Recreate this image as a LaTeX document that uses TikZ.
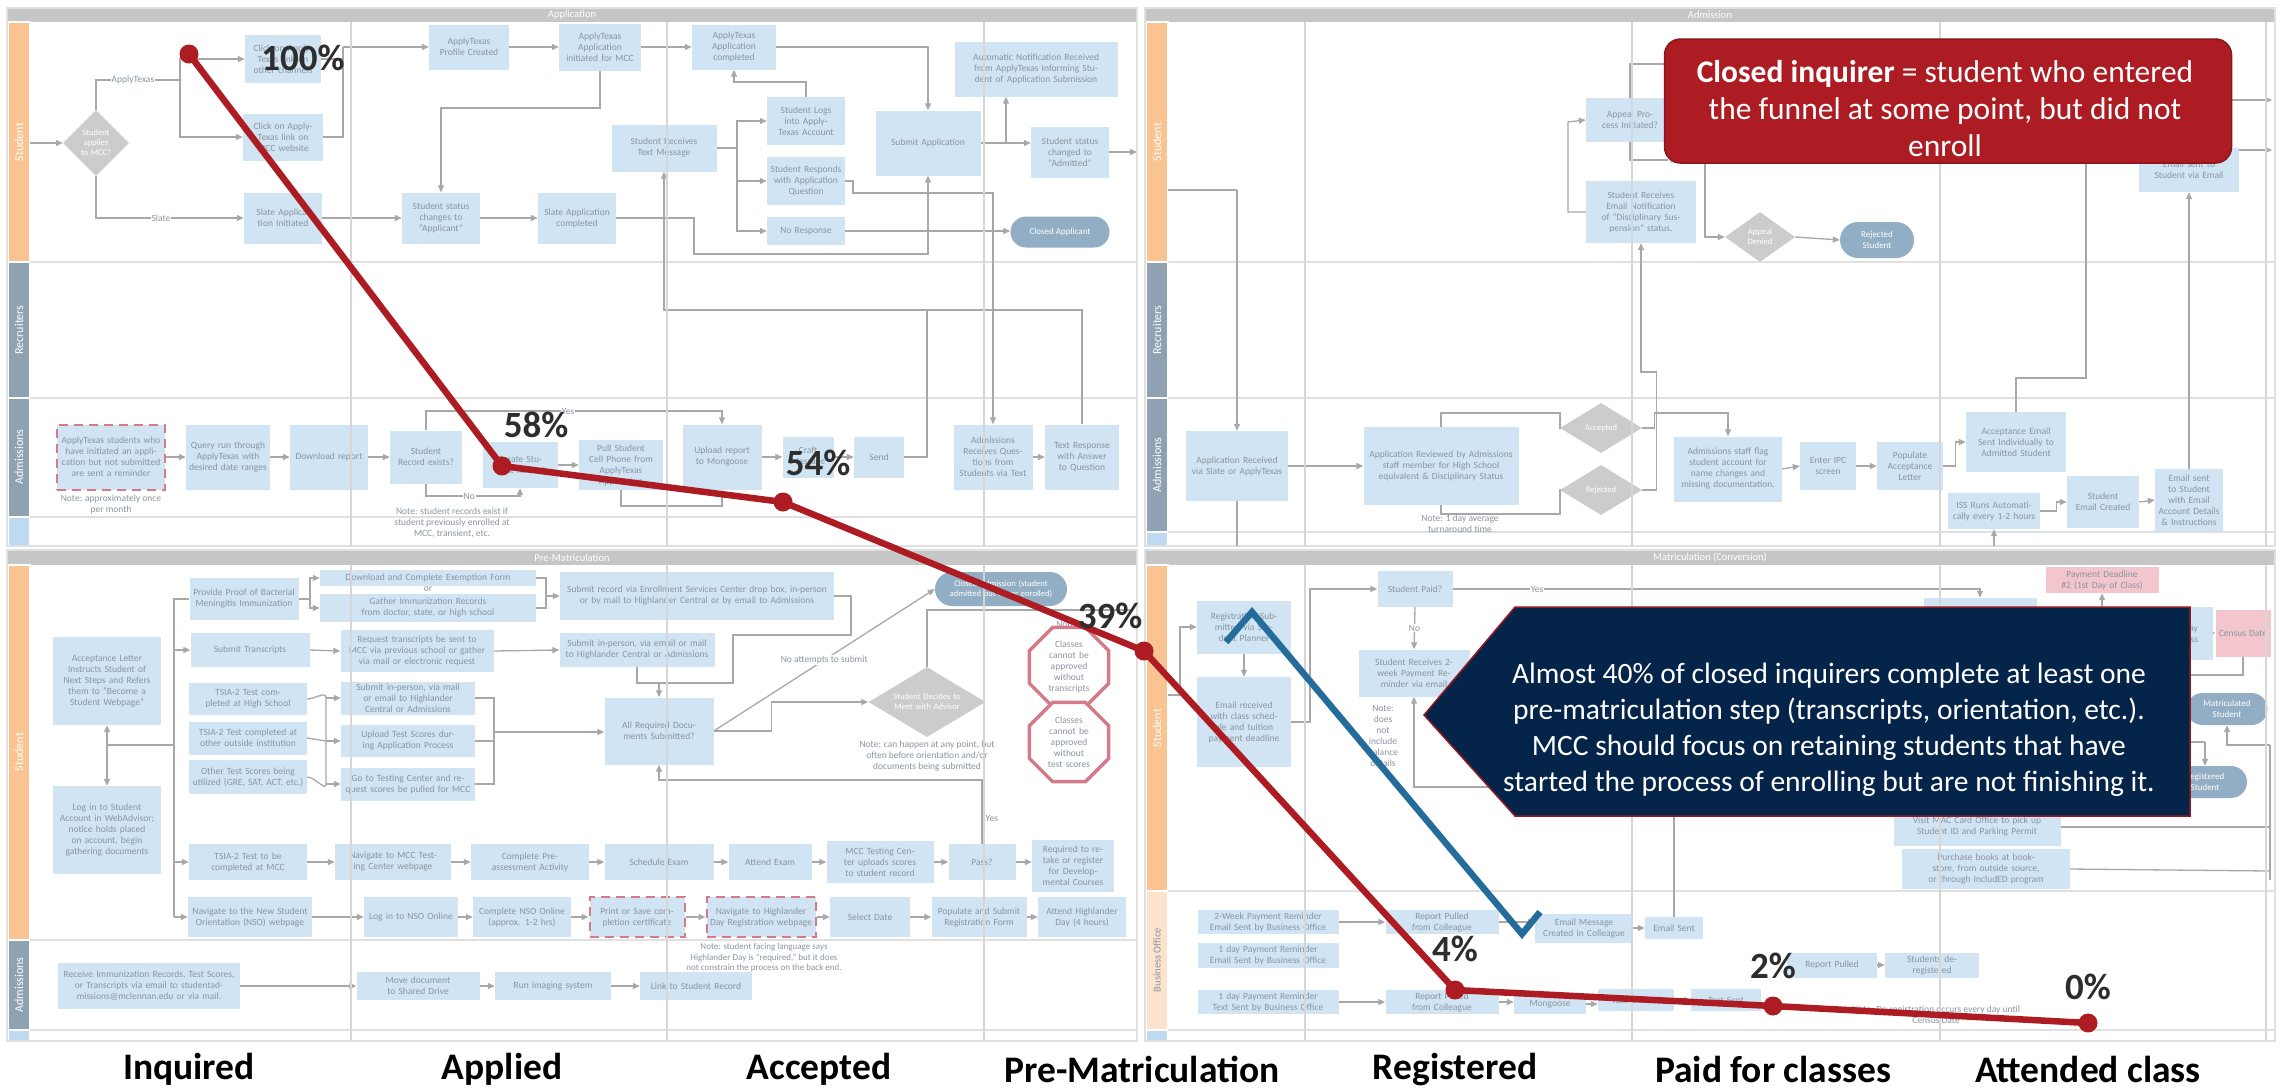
\documentclass[tikz,border=0pt]{standalone}
\usepackage{fontspec}
\setmainfont{Carlito}
\usetikzlibrary{arrows.meta,shapes.geometric,shapes.misc,calc}

\definecolor{boxfill}{RGB}{208,228,244}
\definecolor{boxtext}{RGB}{138,148,160}
\definecolor{wirecol}{RGB}{168,168,168}
\definecolor{sepline}{RGB}{224,224,224}
\definecolor{phasecol}{RGB}{214,214,214}
\definecolor{headbar}{RGB}{198,198,198}
\definecolor{lanestu}{RGB}{249,196,146}
\definecolor{lanegray}{RGB}{143,162,178}
\definecolor{lanelight}{RGB}{190,218,240}
\definecolor{lanepeach}{RGB}{252,228,204}
\definecolor{pinkfillc}{RGB}{242,198,204}
\definecolor{dashred}{RGB}{212,122,136}
\definecolor{termfill}{RGB}{146,174,197}
\definecolor{decfill}{RGB}{204,204,204}
\definecolor{funnelred}{RGB}{174,28,35}
\definecolor{navy}{RGB}{4,36,74}
\definecolor{bracketblue}{RGB}{36,108,155}
\definecolor{pctgray}{RGB}{45,45,45}

\pgfdeclarelayer{panels}
\pgfdeclarelayer{wires}
\pgfsetlayers{panels,wires,main}

\newdimen\flowtw
\newcommand\flowbox[7][]{%
  \flowtw=\dimexpr#5pt-6pt\relax
  \node[pbox,minimum width=#5pt,minimum height=#6pt,text width=\the\flowtw,#1] (#2) at (#3,#4) {#7};}

\tikzset{
  pbox/.style={rectangle, fill=boxfill, text=boxtext, align=center, inner sep=0pt,
    font=\fontsize{9.5}{11}\selectfont},
  dashbox/.style={draw=dashred, line width=2pt, dash pattern=on 9pt off 6pt},
  pinkfill/.style={fill=pinkfillc},
  dec/.style={diamond, fill=decfill, text=white, align=center, inner sep=0pt,
    font=\fontsize{8.5}{10}\selectfont},
  term/.style={rounded rectangle, fill=termfill, text=white, align=center, inner sep=2pt,
    font=\fontsize{9}{10.5}\selectfont},
  stopsign/.style={regular polygon, regular polygon sides=8, draw=dashred, line width=3.5pt,
    fill=white, text=boxtext, align=center, inner sep=0pt, minimum size=76pt, text width=56pt,
    font=\fontsize{9.5}{11}\selectfont},
  note/.style={text=boxtext, align=center, inner sep=1pt, font=\fontsize{9.5}{11}\selectfont},
  lbl/.style={fill=white, text=boxtext, inner sep=1pt, font=\fontsize{9.5}{11}\selectfont},
  wire/.style={draw=wirecol, line width=1.3pt, -{Triangle[length=7pt,width=6pt]}},
  wiren/.style={draw=wirecol, line width=1.3pt},
  wire2/.style={draw=wirecol, line width=1.3pt, {Triangle[length=7pt,width=6pt]}-{Triangle[length=7pt,width=6pt]}},
  lanesep/.style={draw=sepline, line width=1.5pt},
  phaseline/.style={draw=phasecol, line width=1.2pt},
  lanecell/.style={draw=white, line width=1.2pt},
  headtxt/.style={text=white, font=\fontsize{10.5}{12}\selectfont},
  lanelbl/.style={rotate=90, text=white, font=\fontsize{12}{14}\selectfont},
  funnel/.style={draw=funnelred, line width=6.5pt, line join=round},
  fdot/.style={circle, fill=funnelred, minimum size=19pt, inner sep=0pt},
  pct/.style={text=pctgray, font=\fontsize{37}{40}\selectfont\bfseries},
  stage/.style={text=black, font=\fontsize{37.5}{40}\selectfont\bfseries},
  redcall/.style={rectangle, rounded corners=16pt, fill=funnelred, draw=funnelred!80!black,
    line width=1.5pt, minimum width=567pt, minimum height=124pt},
  redtext/.style={text=white, align=center, font=\fontsize{31.5}{37}\selectfont},
  navytext/.style={text=white, align=center, font=\fontsize{29.5}{36}\selectfont},
  bracket/.style={draw=bracketblue, line width=6.5pt, line join=miter}
}

\begin{document}
\begin{tikzpicture}[x=1pt,y=-1pt]
\useasboundingbox (0,0) rectangle (2282,1088);

% ================= swimlane frames =================
\begin{pgfonlayer}{panels}
\fill[white] (0,0) rectangle (2282,1088);
% -- Application
\fill[headbar] (7,8) rectangle (1137,22);
\draw[lanecell,fill=lanestu] (8,22) rectangle (30,262);
\draw[lanecell,fill=lanegray] (8,262) rectangle (30,398);
\draw[lanecell,fill=lanegray] (8,398) rectangle (30,517);
\draw[lanecell,fill=lanelight] (8,517) rectangle (30,546);
\draw[lanesep] (30,262) -- (1137,262) (30,398) -- (1137,398) (30,517) -- (1137,517);
\draw[lanesep] (7,8) rectangle (1137,546);
% -- Admission
\fill[headbar] (1145,8) rectangle (2275,22);
\draw[lanecell,fill=lanestu] (1146,22) rectangle (1168,262);
\draw[lanecell,fill=lanegray] (1146,262) rectangle (1168,398);
\draw[lanecell,fill=lanegray] (1146,398) rectangle (1168,532);
\draw[lanecell,fill=lanelight] (1146,532) rectangle (1168,546);
\draw[lanesep] (1168,262) -- (2275,262) (1168,398) -- (2275,398) (1168,532) -- (2275,532);
\draw[lanesep] (1145,8) rectangle (2275,546);
% -- Pre-Matriculation
\fill[headbar] (7,550) rectangle (1137,565);
\draw[lanecell,fill=lanestu] (8,565) rectangle (30,940);
\draw[lanecell,fill=lanegray] (8,940) rectangle (30,1030);
\draw[lanecell,fill=lanelight] (8,1030) rectangle (30,1041);
\draw[lanesep] (30,940) -- (1137,940) (30,1030) -- (1137,1030);
\draw[lanesep] (7,550) rectangle (1137,1041);
% -- Matriculation
\fill[headbar] (1145,550) rectangle (2275,565);
\draw[lanecell,fill=lanestu] (1146,565) rectangle (1168,891);
\draw[lanecell,fill=lanepeach] (1146,891) rectangle (1168,1030);
\draw[lanecell,fill=lanelight] (1146,1030) rectangle (1168,1041);
\draw[lanesep] (1168,891) -- (2275,891) (1168,1030) -- (2275,1030);
\draw[lanesep] (1145,550) rectangle (2275,1041);
\end{pgfonlayer}

\node[headtxt] (hApp) at (572,15) {Application};
\node[headtxt] (hAdm) at (1710,15) {Admission};
\node[headtxt] (hPre) at (572,557.5) {Pre-Matriculation};
\node[headtxt] (hMat) at (1710,557.5) {Matriculation (Conversion)};
\node[lanelbl] (lA1) at (19,142) {Student};
\node[lanelbl] (lA2) at (19,330) {Recruiters};
\node[lanelbl] (lA3) at (19,457) {Admissions};
\node[lanelbl] (lB1) at (1157,142) {Student};
\node[lanelbl] (lB2) at (1157,330) {Recruiters};
\node[lanelbl] (lB3) at (1157,465) {Admissions};
\node[lanelbl] (lC1) at (19,752) {Student};
\node[lanelbl] (lC2) at (19,985) {Admissions};
\node[lanelbl] (lD1) at (1157,728) {Student};
\node[lanelbl, text=boxtext, font=\fontsize{10.5}{12}\selectfont] (lD2) at (1157,960) {Business Office};

% ================= Application =================
\node[dec, text width=40pt, aspect=1, minimum width=66pt, minimum height=66pt] (dApply) at (96,143) {Student applies to MCC?};
\flowbox{bClickOther}{283}{59}{76}{48}{Click on ApplyTexas link on other channels}
\flowbox{bClickMCC}{283}{137}{80}{47}{Click on ApplyTexas link on MCC website}
\flowbox{bSlateInit}{283}{218}{78}{51}{Slate Application Initiated}
\flowbox{bProfile}{469}{47}{80}{45}{ApplyTexas Profile Created}
\flowbox{bATinit}{600}{47}{82}{47}{ApplyTexas Application initiated for MCC}
\flowbox{bATdone}{734}{47}{84}{45}{ApplyTexas Application completed}
\flowbox{bStatusApp}{441}{218}{78}{51}{Student status changes to ``Applicant''}
\flowbox{bSlateDone}{577}{218}{78}{51}{Slate Application completed}
\flowbox{bText}{664}{148}{105}{47}{Student Receives Text Message}
\flowbox{bLogs}{806}{121}{78}{48}{Student Logs into ApplyTexas Account}
\flowbox{bResponds}{806}{181}{78}{48}{Student Responds with Application Question}
\flowbox{bNoResp}{806}{231}{78}{28}{No Response}
\flowbox{bSubmit}{928}{143}{105}{65}{Submit Application}
\flowbox{bAutoNote}{1036}{69}{163}{55}{Automatic Notification Received from ApplyTexas Informing Student of Application Submission}
\flowbox{bAdmitted}{1070}{152}{78}{51}{Student status changed to ``Admitted''}
\node[term, minimum width=103pt, minimum height=31pt] (eClosedApp) at (1060,232) {Closed Applicant};

\flowbox[dashbox]{bReminder}{111}{457}{108}{65}{ApplyTexas students who have initiated an application but not submitted are sent a reminder}
\node[note] (nMonth) at (111,504) {Note: approximately once\\per month};
\flowbox{bQuery}{228}{457}{84}{65}{Query run through ApplyTexas with desired date ranges}
\flowbox{bDownload}{329}{457}{78}{65}{Download report}
\flowbox{bRecord}{426}{457}{72}{53}{Student Record exists?}
\flowbox{bCreate}{520}{465}{75}{46}{Create Student Record}
\flowbox{bPull}{621}{465}{84}{50}{Pull Student Cell Phone from ApplyTexas Application}
\flowbox{bUpload}{722}{457}{79}{65}{Upload report to Mongoose}
\flowbox{bCraft}{808}{457}{51}{41}{Craft Message}
\flowbox{bSend}{879}{457}{50}{41}{Send}
\flowbox{bAdmQ}{993}{457}{79}{65}{Admissions Receives Questions from Students via Text}
\flowbox{bTextResp}{1082}{457}{74}{65}{Text Response with Answer to Question}
\node[note] (nRecord) at (452,523) {Note: student records exist if\\student previously enrolled at\\MCC, transient, etc.};

% ================= Admission =================
\flowbox{bAppeal}{1630}{120}{88}{44}{Appeal Process Initiated?}
\flowbox{bDisc}{1641}{212}{110}{62}{Student Receives Email Notification of ``Disciplinary Suspension'' status.}
\node[dec, text width=36pt, aspect=1.5, minimum width=70pt, minimum height=50pt] (dDenied) at (1760,237) {Appeal Denied};
\node[term, text width=50pt, minimum width=78pt, minimum height=36pt] (eRejStu) at (1877,240) {Rejected Student};
\flowbox{bViaEmail}{2189}{170}{100}{44}{Email sent to\\Student via Email}

\flowbox{bReceived}{1237}{466}{102}{70}{Application Received via Slate or ApplyTexas}
\flowbox{bReviewed}{1441}{466}{155}{78}{Application Reviewed by Admissions staff member for High School equivalent \& Disciplinary Status}
\node[dec, aspect=1.6, minimum width=82pt, minimum height=50pt] (dAcc) at (1601,428) {Accepted};
\node[dec, aspect=1.6, minimum width=82pt, minimum height=50pt] (dRej) at (1601,490) {Rejected};
\flowbox{bFlag}{1728}{469}{108}{65}{Admissions staff flag student account for name changes and missing documentation.}
\flowbox{bIPC}{1828}{466}{56}{48}{Enter IPC screen}
\flowbox{bPop}{1910}{466}{66}{48}{Populate Acceptance Letter}
\flowbox{bAccept}{2016}{442}{100}{60}{Acceptance Email Sent Individually to Admitted Student}
\flowbox{bISS}{1994}{511}{92}{36}{ISS Runs Automatically every 1-2 hours}
\flowbox{bEmailCr}{2103}{502}{72}{52}{Student Email Created}
\flowbox{bEmailSent}{2189}{500}{68}{62}{Email sent to Student with Email Account Details \& Instructions}
\node[note] (nTurn) at (1460,524) {Note: 1 day average\\turnaround time};

% ================= Pre-Matriculation =================
\flowbox{bAccLetter}{107}{681}{108}{88}{Acceptance Letter Instructs Student of Next Steps and Refers them to ``Become a Student Webpage''}
\flowbox{bLogin}{107}{830}{108}{88}{Log in to Student Account in WebAdvisor; notice holds placed on account, begin gathering documents}
\flowbox{bProvide}{244}{599}{109}{42}{Provide Proof of Bacterial Meningitis Immunization}
\flowbox{bExempt}{428}{578}{216}{16}{Download and Complete Exemption Form}
\node[note] (nOr) at (428,589) {or};
\flowbox{bGather}{428}{608}{216}{28}{Gather Immunization Records from doctor, state, or high school}
\flowbox{bSubmitRec}{697}{596}{274}{48}{Submit record via Enrollment Services Center drop box, in-person or by mail to Highlander Central or by email to Admissions}
\flowbox{bTranscripts}{250}{650}{119}{34}{Submit Transcripts}
\flowbox{bRequest}{417}{651}{153}{42}{Request transcripts be sent to MCC via previous school or gather via mail or electronic request}
\flowbox{bSubmitTr}{637}{650}{155}{34}{Submit in-person, via email or mail to Highlander Central or Admissions}
\flowbox{bTsiaHS}{248}{699}{118}{32}{TSIA-2 Test completed at High School}
\flowbox{bTsiaOut}{248}{738}{118}{33}{TSIA-2 Test completed at other outside institution}
\flowbox{bOther}{248}{777}{118}{34}{Other Test Scores being utilized (GRE, SAT, ACT, etc.)}
\flowbox{bSubmitTs}{408}{698}{134}{33}{Submit in-person, via mail or email to Highlander Central or Admissions}
\flowbox{bUploadTs}{408}{741}{134}{32}{Upload Test Scores during Application Process}
\flowbox{bGoTest}{408}{784}{134}{33}{Go to Testing Center and request scores be pulled for MCC}
\flowbox{bAllReq}{659}{731}{109}{67}{All Required Documents Submitted?}
\node[dec, text width=72pt, aspect=1.7, minimum width=117pt, minimum height=70pt] (dAdvisor) at (927,702) {Student Decides to Meet with Advisor};
\node[term, text width=112pt, minimum width=136pt, minimum height=34pt, font=\fontsize{8.5}{9.5}\selectfont] (eClosedAdm) at (1001,589) {Closed Admission (student admitted but never enrolled)};
\node[note] (nAny) at (927,756) {Note: can happen at any point, but\\often before orientation and/or\\documents being submitted};
\node[note] (nNoteOct) at (1067,624) {Note:};
\node[stopsign] (oTrans) at (1069,667) {Classes cannot be approved without transcripts};
\node[stopsign] (oTest) at (1069,742) {Classes cannot be approved without test scores};

\flowbox{bTsiaMCC}{248}{862}{118}{36}{TSIA-2 Test to be completed at MCC}
\flowbox{bNavTC}{393}{862}{116}{36}{Navigate to MCC Testing Center webpage}
\flowbox{bPreAss}{530}{862}{118}{36}{Complete Pre-assessment Activity}
\flowbox{bSched}{659}{862}{109}{36}{Schedule Exam}
\flowbox{bAttend}{770}{862}{83}{36}{Attend Exam}
\flowbox{bUpScore}{880}{862}{107}{42}{MCC Testing Center uploads scores to student record}
\flowbox{bPass}{982}{862}{67}{36}{Pass?}
\flowbox{bRetake}{1073}{866}{82}{52}{Required to re-take or register for Developmental Courses}

\flowbox{bNSO}{250}{917}{124}{40}{Navigate to the New Student Orientation (NSO) webpage}
\flowbox{bLogNSO}{411}{917}{94}{40}{Log in to NSO Online}
\flowbox{bCompNSO}{522}{917}{98}{40}{Complete NSO Online (approx. 1-2 hrs)}
\flowbox[dashbox]{bPrint}{637}{917}{95}{40}{Print or Save completion certificate}
\flowbox[dashbox]{bNavHD}{761}{917}{109}{40}{Navigate to Highlander Day Registration webpage}
\flowbox{bSelDate}{870}{917}{80}{40}{Select Date}
\flowbox{bPopReg}{979}{917}{95}{40}{Populate and Submit Registration Form}
\flowbox{bAttendHD}{1082}{917}{88}{40}{Attend Highlander Day (4 hours)}
\node[note, font=\fontsize{9}{10.5}\selectfont] (nHD) at (764,958) {Note: student facing language says\\Highlander Day is ``required,'' but it does\\not constrain the process on the back end.};

\flowbox{bReceive}{149}{986}{182}{46}{Receive Immunization Records, Test Scores, or Transcripts via email to studentadmissions@mclennan.edu or via mail.}
\flowbox{bMove}{418}{986}{123}{28}{Move document to Shared Drive}
\flowbox{bRun}{553}{986}{116}{28}{Run imaging system}
\flowbox{bLink}{696}{986}{112}{28}{Link to Student Record}

% ================= Matriculation =================
\flowbox{bRegSub}{1244}{627}{94}{53}{Registration Submitted via Student Planner}
\flowbox{bEmailRec}{1244}{722}{94}{90}{Email received with class schedule and tuition payment deadline}
\flowbox{bPaid}{1415}{589}{75}{36}{Student Paid?}
\flowbox{bReminder2}{1414}{673}{111}{47}{Student Receives 2-week Payment Reminder via email}
\node[note] (nBal) at (1383,736) {Note:\\does\\not\\include\\balance\\details};
\flowbox{bHidBlue}{1653}{640}{92}{46}{Student}
\flowbox[pinkfill]{bHidPink}{1756}{640}{72}{46}{Payment}
\flowbox{bGains}{1980}{618}{113}{40}{Student gains access to}
\flowbox[pinkfill]{bPayDead}{2102}{580}{113}{26}{Payment Deadline \#2 (1st Day of Class)}
\flowbox{b1st}{2102}{633}{59}{53}{1\textsuperscript{st} Day of Class}
\flowbox{b2nd}{2183}{633}{60}{53}{2\textsuperscript{nd} Day of Class}
\flowbox[pinkfill]{bCensus}{2243}{633}{55}{47}{Census Date}
\node[term, text width=60pt, minimum width=85pt, minimum height=32pt] (eMatric) at (2227,709) {Matriculated Student};
\node[term, text width=60pt, minimum width=88pt, minimum height=32pt] (eRegStu) at (2205,782) {Registered Student};
\flowbox{bMac}{1977}{827}{167}{38}{Visit MAC Card Office to pick up Student ID and Parking Permit}
\flowbox{bBooks}{1986}{869}{168}{40}{Purchase books at bookstore, from outside source, or through IncludED program}

\flowbox{b2wk}{1268}{922}{141}{24}{2-Week Payment Reminder Email Sent by Business Office}
\flowbox{bRP1}{1442}{922}{113}{24}{Report Pulled from Colleague}
\flowbox{bEMC}{1584}{928}{98}{29}{Email Message Created in Colleague}
\flowbox{bESent}{1674}{928}{58}{22}{Email Sent}
\flowbox{b1dEmail}{1268}{955}{141}{25}{1 day Payment Reminder Email Sent by Business Office}
\flowbox{b1dText}{1268}{1002}{141}{24}{1 day Payment Reminder Text Sent by Business Office}
\flowbox{bRP2}{1442}{1002}{113}{24}{Report Pulled from Colleague}
\flowbox{bMong}{1550}{1004}{72}{20}{Mongoose}
\flowbox{bTCr}{1636}{1000}{76}{22}{Text Created}
\flowbox{bTSent}{1726}{1000}{70}{22}{Text Sent}
\flowbox{bRP3}{1832}{965}{90}{25}{Report Pulled}
\flowbox{bDereg}{1932}{965}{94}{25}{Students de-registered}
\node[note] (nDereg) at (1936,1015) {Note: De-registration occurs every day until\\Census Date};

% ================= connectors =================
\begin{pgfonlayer}{wires}
% Application / Student
\coordinate (inA) at (30,143);
\coordinate (jAT) at (180,80);
\coordinate (jProf) at (343,47);
\coordinate (jStat) at (441,108);
\coordinate (jSD) at (694,254);
\coordinate (jTxt) at (737,148);
\coordinate (jLog) at (734,82);
\coordinate (jAuto) at (1006,143);
\coordinate (exA) at (1137,152);
\coordinate (jResp) at (853,193);
\draw[wire] (inA) -- (dApply.west);
\draw[wiren] (dApply.north) |- node[lbl,pos=0.72]{ApplyTexas} (jAT);
\draw[wire] (jAT) |- (bClickOther.west);
\draw[wire] (jAT) |- (bClickMCC.west);
\draw[wire] (dApply.south) |- node[lbl,pos=0.72]{Slate} (bSlateInit.west);
\draw[wiren] (bClickOther.east) -| (jProf);
\draw[wiren] (bClickMCC.east) -| (jProf);
\draw[wire] (jProf) -- (bProfile.west);
\draw[wire] (bProfile.east) -- (bATinit.west);
\draw[wire] (bATinit.east) -- (bATdone.west);
\draw[wire] (bATinit.south) |- (jStat) -- (bStatusApp.north);
\draw[wire] (bSlateInit.east) -- (bStatusApp.west);
\draw[wire] (bStatusApp.east) -- (bSlateDone.west);
\draw[wire] (bSlateDone.east) -| (jSD) -| (bSubmit.south);
\draw[wire] (bATdone.east) -| (bSubmit.north);
\draw[wiren] (bText.east) -- (jTxt);
\draw[wire] (jTxt) |- (bLogs.west);
\draw[wire] (jTxt) |- (bResponds.west);
\draw[wire] (jTxt) |- (bNoResp.west);
\draw[wire] (bLogs.north) |- (jLog) -- (bATdone.south);
\draw[wire] (bSubmit.east) -- (bSubmit.east -| bAdmitted.west);
\draw[wire] (jAuto) -- (jAuto |- bAutoNote.south);
\draw[wire] (bNoResp.east) -- (bNoResp.east -| eClosedApp.west);
\draw[wire] (bAdmitted.east) -- (exA);
\draw[wire] (bResponds.east) -| (jResp) -| (bAdmQ.north);
% Application / Admissions
\coordinate (jUp) at (722,411);
\coordinate (jCr) at (520,496);
\coordinate (jPl) at (722,506);
\coordinate (jSend) at (927,310);
\draw[wire] (bReminder.east) -- (bQuery.west);
\draw[wire] (bQuery.east) -- (bDownload.west);
\draw[wire] (bDownload.east) -- (bRecord.west);
\draw[wire] (bRecord.north) |- node[lbl,pos=0.74]{Yes} (jUp) -- (bUpload.north);
\draw[wire] (bRecord.south) |- node[lbl,pos=0.73]{No} (jCr) -- (bCreate.south);
\draw[wire] (bCreate.east) -- (bPull.west);
\draw[wire] (bPull.south) |- (jPl) -- (bUpload.south);
\draw[wire] (bUpload.east) -- (bCraft.west);
\draw[wire] (bCraft.east) -- (bSend.west);
\draw[wire] (bSend.east) -| (jSend) -| (bText.south);
\draw[wiren] (bTextResp.north) |- (jSend);
\draw[wire] (bAdmQ.east) -- (bTextResp.west);

% Admission / Student
\coordinate (jApp) at (1568,122);
\coordinate (jNo) at (1722,64);
\coordinate (jYes) at (1705,160);
\coordinate (hidR1) at (2200,100);
\coordinate (exR1) at (2272,100);
\coordinate (hidR2) at (2200,150);
\coordinate (exR2) at (2272,150);
\draw[wire] (bDisc.west) -| (jApp) -- (bAppeal.west);
\draw[wiren] (bAppeal.north) |- node[lbl,pos=0.85]{No} (jNo);
\draw[wire] (bAppeal.south) |- node[lbl,pos=0.8]{Yes} (jYes) |- (dDenied.west);
\draw[wire] (dDenied.east) -- (eRejStu.west);
\draw[wire] (hidR1) -- (exR1);
\draw[wire] (hidR2) -- (exR2);
% Admission / Admissions
\coordinate (inB) at (1168,190);
\coordinate (jRec) at (1237,190);
\coordinate (outRec) at (1237,546);
\coordinate (jAcc) at (1560,413);
\coordinate (jRej) at (1560,514);
\coordinate (jFlag) at (1728,413);
\coordinate (jDisc) at (1641,372);
\coordinate (jAE) at (2086,378);
\coordinate (hidAE) at (2086,160);
\coordinate (inISS) at (1994,546);
\draw[wiren] (inB) -- (jRec);
\draw[wire] (jRec) -- (bReceived.north);
\draw[wiren] (bReceived.south) -- (outRec);
\draw[wire] (bReceived.east) -- (bReviewed.west);
\draw[wire] (bReviewed.north) |- (jAcc) |- (dAcc.west);
\draw[wire] (bReviewed.south) |- (jRej) |- (dRej.west);
\draw[wire] (dAcc.east) -- ++(12,0) |- (jFlag) -- (bFlag.north);
\draw[wire] (dRej.east) -- ++(14,0) |- (jDisc) -- (bDisc.south);
\draw[wire] (bFlag.east) -- (bIPC.west);
\draw[wire] (bIPC.east) -- (bPop.west);
\draw[wire] (bPop.east) -- ++(12,0) |- (bAccept.west);
\draw[wiren] (bAccept.north) |- (jAE) -- (hidAE);
\draw[wire] (inISS) -- (bISS.south);
\draw[wire] (bISS.east) -- ++(16,0) |- (bEmailCr.west);
\draw[wire] (bEmailCr.east) -- (bEmailSent.west);
\draw[wire] (bEmailSent.north) -- (bViaEmail.south);

% Pre-Matriculation
\coordinate (jAL) at (107,745);
\coordinate (busMid) at (174,745);
\coordinate (busBot) at (174,917);
\coordinate (jPr) at (310,599);
\coordinate (jEx) at (546,596);
\coordinate (brace) at (326,741);
\coordinate (jTs) at (494,732);
\coordinate (jR1) at (851,635);
\coordinate (jR2) at (733,683);
\coordinate (jAR) at (659,683);
\coordinate (jPassL) at (659,780);
\coordinate (hidAdv) at (1130,610);
\draw[wire2] (bAccLetter.south) -- (bLogin.north);
\draw[wiren] (jAL) -- (busMid);
\draw[wiren] (bProvide.west) -| (busBot);
\draw[wire] (busMid |- bTranscripts.west) -- (bTranscripts.west);
\draw[wire] (busMid |- bTsiaMCC.west) -- (bTsiaMCC.west);
\draw[wire] (busBot) -- (bNSO.west);
\draw[wiren] (bProvide.east) -- (jPr);
\draw[wire] (jPr) |- (bExempt.west);
\draw[wire] (jPr) |- (bGather.west);
\draw[wiren] (bExempt.east) -| (jEx);
\draw[wiren] (bGather.east) -| (jEx);
\draw[wire] (jEx) -- (bSubmitRec.west);
\draw[wire] (bTranscripts.east) -- (bRequest.west);
\draw[wire] (bRequest.east) -- (bSubmitTr.west);
\draw[wiren] (bTsiaHS.east) to[out=0,in=90] (brace |- bSubmitTs.west) -- (brace |- bGoTest.west) to[out=-90,in=0] (bOther.east);
\draw[wiren] (bTsiaOut.east) -- (brace);
\draw[wire] (brace |- bSubmitTs.west) -- (bSubmitTs.west);
\draw[wire] (brace) -- (bUploadTs.west);
\draw[wire] (brace |- bGoTest.west) -- (bGoTest.west);
\draw[wiren] (bSubmitTs.east) -| (jTs);
\draw[wiren] (bGoTest.east) -| (jTs);
\draw[wiren] (bUploadTs.east) -- (bUploadTs.east -| jTs);
\draw[wire] (jTs) -- (jTs -| bAllReq.west);
\draw[wire] (bSubmitRec.east) -| (jR1) -| (jR2) -| (bAllReq.north);
\draw[wiren] (bSubmitTr.south) |- (jAR);
\draw[wire] (bAllReq.east) -- ++(58,0) |- (dAdvisor.west);
\draw[wire] (bAllReq.east) -- node[lbl,pos=0.5]{No attempts to submit} (eClosedAdm.west);
\draw[wiren] (dAdvisor.north) |- (hidAdv);
\draw[wire] (bTsiaMCC.east) -- (bNavTC.west);
\draw[wire] (bNavTC.east) -- (bPreAss.west);
\draw[wire] (bPreAss.east) -- (bSched.west);
\draw[wire] (bSched.east) -- (bAttend.west);
\draw[wire] (bAttend.east) -- (bUpScore.west);
\draw[wire] (bUpScore.east) -- (bPass.west);
\draw[wire] (bPass.east) -- (bPass.east -| bRetake.west);
\draw[wire] (bPass.north) |- node[lbl,pos=0.2,right=2pt]{Yes} (jPassL) -- (bAllReq.south);
\draw[wire] (bNSO.east) -- (bLogNSO.west);
\draw[wire] (bLogNSO.east) -- (bCompNSO.west);
\draw[wire] (bCompNSO.east) -- (bPrint.west);
\draw[wire] (bPrint.east) -- (bNavHD.west);
\draw[wire] (bNavHD.east) -- (bSelDate.west);
\draw[wire] (bSelDate.east) -- (bPopReg.west);
\draw[wire] (bPopReg.east) -- (bAttendHD.west);
\draw[wire] (bReceive.east) -- (bMove.west);
\draw[wire] (bMove.east) -- (bRun.west);
\draw[wire] (bRun.east) -- (bLink.west);

% Matriculation
\coordinate (inD) at (1168,695);
\coordinate (jReg) at (1180,695);
\coordinate (jPaid) at (1310,589);
\coordinate (jRem) at (1674,787);
\coordinate (hidCen) at (2150,675);
\coordinate (inMat) at (2270,880);
\coordinate (jMat) at (2270,745);
\coordinate (jRS) at (2205,742);
\coordinate (hidRS) at (2150,742);
\coordinate (exMac) at (2270,827);
\coordinate (exBooks) at (2270,871);
\draw[wiren] (inD) -- (jReg);
\draw[wire] (jReg) |- (bRegSub.west);
\draw[wire] (bRegSub.south) -- (bEmailRec.north);
\draw[wire] (bEmailRec.east) -| (jPaid) -- (bPaid.west);
\draw[wire] (bPaid.south) -- node[lbl]{No} (bReminder2.north);
\draw[wire] (bPaid.east) -| node[lbl,pos=0.08]{Yes} (bGains.north);
\draw[wire] (b1st.north) -- (bPayDead.south);
\draw[wire] (b2nd.east) -- (bCensus.west);
\draw[wiren] (bCensus.south) |- (hidCen);
\draw[wiren] (inMat) -- (jMat);
\draw[wire] (jMat) -| (eMatric.south);
\draw[wiren] (hidRS) -- (jRS);
\draw[wire] (jRS) -- (eRegStu.north);
\draw[wiren] (bMac.east) -- (exMac);
\draw[wiren] (bBooks.east) -- (exBooks);
\draw[wire] (b2wk.east) -- (bRP1.west);
\draw[wire] (bRP1.east) -- (bRP1.east -| bEMC.west);
\draw[wire] (bEMC.east) -- (bESent.west);
\draw[wire] (bESent.north) -- (jRem) -| (bReminder2.south);
\draw[wire] (b1dText.east) -- (bRP2.west);
\draw[wire] (bRP2.east) -- (bRP2.east -| bMong.west);
\draw[wire] (bMong.east) -- (bMong.east -| bTCr.west);
\draw[wire] (bTCr.east) -- (bTSent.west);
\draw[wire] (bRP3.east) -- (bDereg.west);
\end{pgfonlayer}

% ================= phase separators =================
\foreach \px in {351,667,984} {
  \draw[phaseline] (\px,22) -- (\px,546);
  \draw[phaseline] (\px,565) -- (\px,1041);
}
\foreach \px in {1305,1632,1940,2266} {
  \draw[phaseline] (\px,22) -- (\px,546);
  \draw[phaseline] (\px,565) -- (\px,1041);
}

% ================= funnel overlay =================
\coordinate (bk1) at (1226,642);
\coordinate (bk2) at (1252,612);
\coordinate (bk3) at (1522,934);
\coordinate (bk4) at (1540,912);
\draw[bracket] (bk1) -- (bk2) -- (bk3) -- (bk4);

\node[fdot] (p1) at (189,54) {};
\node[fdot] (p2) at (502,466) {};
\node[fdot] (p3) at (783,502) {};
\node[fdot] (p4) at (1144,651) {};
\node[fdot] (p5) at (1455,990) {};
\node[fdot] (p6) at (1773,1006) {};
\node[fdot] (p7) at (2088,1023) {};
\draw[funnel] (p1.center) -- (p2.center) -- (p3.center) -- (p4.center) -- (p5.center) -- (p6.center) -- (p7.center);

\node[pct] (t1) at (303,58) {100\%};
\node[pct] (t2) at (536,425) {58\%};
\node[pct] (t3) at (818,463) {54\%};
\node[pct] (t4) at (1110,616) {39\%};
\node[pct] (t5) at (1455,949) {4\%};
\node[pct] (t6) at (1773,966) {2\%};
\node[pct] (t7) at (2088,987) {0\%};

\node[stage] (s1) at (189,1069) {Inquired};
\node[stage] (s2) at (502,1069) {Applied};
\node[stage] (s3) at (819,1069) {Accepted};
\node[stage] (s4) at (1142,1069) {Pre-Matriculation};
\node[stage] (s5) at (1455,1069) {Registered};
\node[stage] (s6) at (1773,1069) {Paid for classes};
\node[stage] (s7) at (2088,1069) {Attended class};

\node[redcall] (closedDef) at (1948,101) {};
\node[redtext] (closedTxt) at (1945,109) {\textbf{Closed inquirer} = student who entered\\the funnel at some point, but did not\\enroll};

\coordinate (nvTip) at (1424,715);
\coordinate (nvTL) at (1515,607);
\coordinate (nvTR) at (2190,607);
\coordinate (nvBR) at (2190,816);
\coordinate (nvBL) at (1515,816);
\draw[fill=navy, draw=funnelred!85!black, line width=1.5pt] (nvTip) -- (nvTL) -- (nvTR) -- (nvBR) -- (nvBL) -- cycle;
\node[navytext] (insight) at (1829,730) {Almost 40\% of closed inquirers complete at least one\\pre-matriculation step (transcripts, orientation, etc.).\\MCC should focus on retaining students that have\\started the process of enrolling but are not finishing it.};
\end{tikzpicture}
\end{document}
